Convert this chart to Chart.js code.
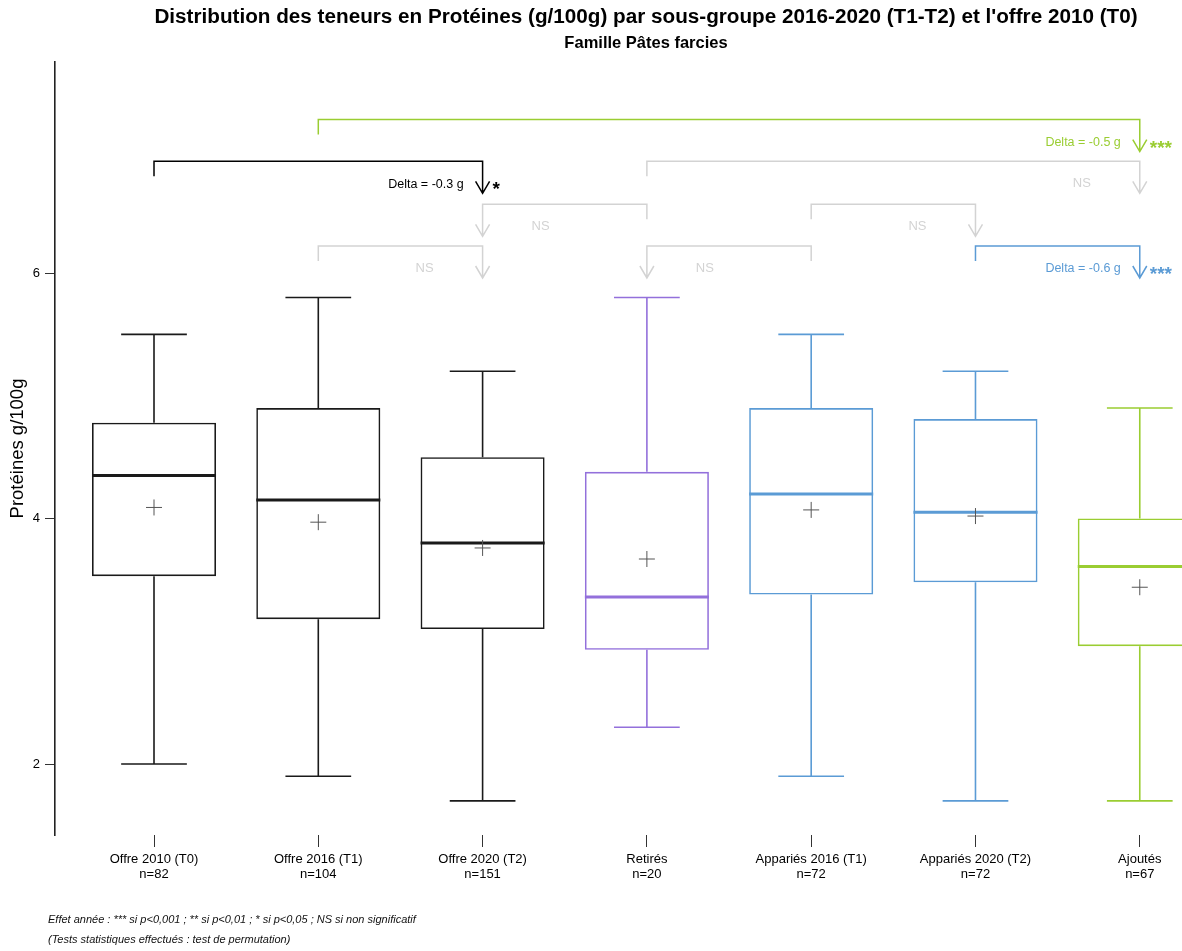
<!DOCTYPE html>
<html>
<head>
<meta charset="utf-8">
<script src="https://cdn.jsdelivr.net/npm/chart.js@4.4.1/dist/chart.umd.min.js"></script>
<style>
  html, body { margin: 0; padding: 0; background: #fff; }
</style>
</head>
<body>
<canvas id="graph" width="1182" height="951"></canvas>
<script>
// Sous-groupes et effectifs
const groupes = ["Offre 2010 (T0)", "Offre 2016 (T1)", "Offre 2020 (T2)", "Retirés",
                 "Appariés 2016 (T1)", "Appariés 2020 (T2)", "Ajoutés"];
const effectifs = [82, 104, 151, 20, 72, 72, 67];

// Statistiques des boîtes (g/100g)
const minimum = [2.0, 1.9, 1.7, 2.3, 1.9, 1.7, 1.7];
const q1      = [3.53, 3.18, 3.10, 2.93, 3.38, 3.48, 2.96];
const mediane = [4.35, 4.15, 3.80, 3.36, 4.20, 4.05, 3.61];
const q3      = [4.78, 4.90, 4.50, 4.38, 4.90, 4.81, 4.00];
const maximum = [5.5, 5.8, 5.2, 5.8, 5.5, 5.2, 4.9];
const moyenne = [4.09, 3.97, 3.76, 3.67, 4.07, 4.02, 3.44];

const yTicks = [2, 4, 6];

// Comparaisons : de -> vers, niveau du crochet, texte
const compDe     = [1, 0, 3, 3, 4, 1, 4, 5];
const compVers   = [6, 2, 6, 2, 5, 2, 3, 6];
const compNiveau = [7.25, 6.91, 6.91, 6.56, 6.56, 6.22, 6.22, 6.22];
const compDelta  = ["Delta = -0.5 g", "Delta = -0.3 g", "", "", "", "", "", "Delta = -0.6 g"];
const compSignif = ["***", "*", "NS", "NS", "NS", "NS", "NS", "***"];

// couleurs
const NOIR = "#1a1a1a", VIOLET = "#9370DB", BLEU = "#5B9BD5", VERT = "#9ACD32", GRIS = "#d3d3d3";
const couleurs = [NOIR, NOIR, NOIR, VIOLET, BLEU, BLEU, VERT];
const compCouleur = [VERT, "#000", GRIS, GRIS, GRIS, GRIS, GRIS, BLEU];

const POLICE = "'Liberation Sans', Arial, sans-serif";

// moustaches + médianes, dessinées juste après les boîtes
const boites = {
    id: "boites",
    afterDatasetDraw(chart, args) {
        if (args.index !== 0) return;
        const { ctx, scales: { x, y } } = chart;
        const pas = x.getPixelForValue(1) - x.getPixelForValue(0);
        const demiCap = pas * 0.2;
        const demiBoite = pas * 0.3775;
        ctx.save();
        groupes.forEach((g, i) => {
            const px = x.getPixelForValue(i);
            ctx.strokeStyle = couleurs[i];
            ctx.lineWidth = 1.6;
            ctx.beginPath();
            ctx.moveTo(px, y.getPixelForValue(q3[i]));
            ctx.lineTo(px, y.getPixelForValue(maximum[i]));
            ctx.moveTo(px - demiCap, y.getPixelForValue(maximum[i]));
            ctx.lineTo(px + demiCap, y.getPixelForValue(maximum[i]));
            ctx.moveTo(px, y.getPixelForValue(q1[i]));
            ctx.lineTo(px, y.getPixelForValue(minimum[i]));
            ctx.moveTo(px - demiCap, y.getPixelForValue(minimum[i]));
            ctx.lineTo(px + demiCap, y.getPixelForValue(minimum[i]));
            ctx.stroke();
            ctx.lineWidth = 3;
            ctx.beginPath();
            ctx.moveTo(px - demiBoite, y.getPixelForValue(mediane[i]));
            ctx.lineTo(px + demiBoite, y.getPixelForValue(mediane[i]));
            ctx.stroke();
        });
        ctx.restore();
    }
};

// crochets de comparaison, titres et notes
const annotations = {
    id: "annotations",
    afterDraw(chart) {
        const { ctx, scales: { x, y } } = chart;
        ctx.save();
        compDe.forEach((de, k) => {
            const x1 = x.getPixelForValue(de);
            const x2 = x.getPixelForValue(compVers[k]);
            const yb = y.getPixelForValue(compNiveau[k]);
            const col = compCouleur[k];
            ctx.strokeStyle = col;
            ctx.lineWidth = 1.5;
            ctx.beginPath();
            ctx.moveTo(x1, yb + 15);
            ctx.lineTo(x1, yb);
            ctx.lineTo(x2, yb);
            ctx.lineTo(x2, yb + 32);
            ctx.moveTo(x2 - 7, yb + 20);
            ctx.lineTo(x2, yb + 32);
            ctx.lineTo(x2 + 7, yb + 20);
            ctx.stroke();

            ctx.fillStyle = col;
            if (compSignif[k] === "NS") {
                const sens = Math.sign(x1 - x2);
                ctx.font = "13px " + POLICE;
                ctx.textAlign = "center";
                ctx.textBaseline = "middle";
                ctx.fillText("NS", x2 + sens * 58, yb + 22);
            } else {
                ctx.font = "12.5px " + POLICE;
                ctx.textAlign = "right";
                ctx.textBaseline = "middle";
                ctx.fillText(compDelta[k], x2 - 19, yb + 23);
                ctx.font = "bold 19px " + POLICE;
                ctx.textAlign = "left";
                ctx.textBaseline = "alphabetic";
                ctx.fillText(compSignif[k], x2 + 10, yb + 34);
            }
        });

        // titres
        ctx.fillStyle = "#000";
        ctx.textAlign = "center";
        ctx.textBaseline = "middle";
        ctx.font = "bold 20.7px " + POLICE;
        ctx.fillText("Distribution des teneurs en Protéines (g/100g) par sous-groupe 2016-2020 (T1-T2) et l'offre 2010 (T0)", 646, 17);
        ctx.font = "bold 16.5px " + POLICE;
        ctx.fillText("Famille Pâtes farcies", 646, 43);

        // notes
        ctx.textAlign = "left";
        ctx.font = "italic 11px " + POLICE;
        ctx.fillStyle = "#111";
        ctx.fillText("Effet année : *** si p<0,001 ; ** si p<0,01 ; * si p<0,05 ; NS si non significatif", 48, 920);
        ctx.fillText("(Tests statistiques effectués : test de permutation)", 48, 940);
        ctx.restore();
    }
};

new Chart(document.getElementById("graph"), {
    type: "bar",
    data: {
        datasets: [
            {
                type: "bar",
                data: groupes.map((g, i) => ({ x: i, y: [q1[i], q3[i]] })),
                backgroundColor: "rgba(255,255,255,0)",
                borderColor: couleurs,
                borderWidth: 1.6,
                borderSkipped: false,
                barPercentage: 0.755,
                categoryPercentage: 1,
                order: 2
            },
            {
                type: "scatter",
                data: groupes.map((g, i) => ({ x: i, y: moyenne[i] })),
                pointStyle: "cross",
                pointRadius: 8,
                borderColor: "#555",
                borderWidth: 1,
                order: 1
            }
        ]
    },
    options: {
        responsive: false,
        animation: false,
        devicePixelRatio: 1,
        layout: { autoPadding: false, padding: { top: 62, left: 0, right: 0, bottom: 0 } },
        plugins: { legend: { display: false }, tooltip: { enabled: false } },
        scales: {
            x: {
                type: "linear",
                min: -0.6026,
                max: 6.257,
                offset: false,
                grid: { offset: false, drawOnChartArea: false, drawTicks: true, tickLength: 12, color: "#333" },
                border: { display: false },
                afterBuildTicks: s => { s.ticks = groupes.map((g, i) => ({ value: i })); },
                afterFit: s => { s.height = 116; s.paddingLeft = 0; s.paddingRight = 0; },
                ticks: {
                    autoSkip: false,
                    maxRotation: 0,
                    padding: 5,
                    color: "#000",
                    font: { family: POLICE, size: 13, lineHeight: 1.15 },
                    callback: v => [groupes[v], "n=" + effectifs[v]]
                }
            },
            y: {
                min: 1.4216,
                max: 7.719,
                afterBuildTicks: s => { s.ticks = yTicks.map(v => ({ value: v })); },
                afterFit: s => { s.width = 55; s.paddingTop = 0; s.paddingBottom = 0; },
                grid: { drawOnChartArea: false, drawTicks: true, tickLength: 10, color: "#333" },
                border: { display: true, color: "#222", width: 1.6 },
                ticks: { padding: 5, color: "#000", font: { family: POLICE, size: 13 } },
                title: {
                    display: true,
                    text: "Protéines g/100g",
                    color: "#000",
                    font: { family: POLICE, size: 18.5 },
                    padding: { top: 7, bottom: 0 }
                }
            }
        }
    },
    plugins: [boites, annotations]
});
</script>
</body>
</html>
